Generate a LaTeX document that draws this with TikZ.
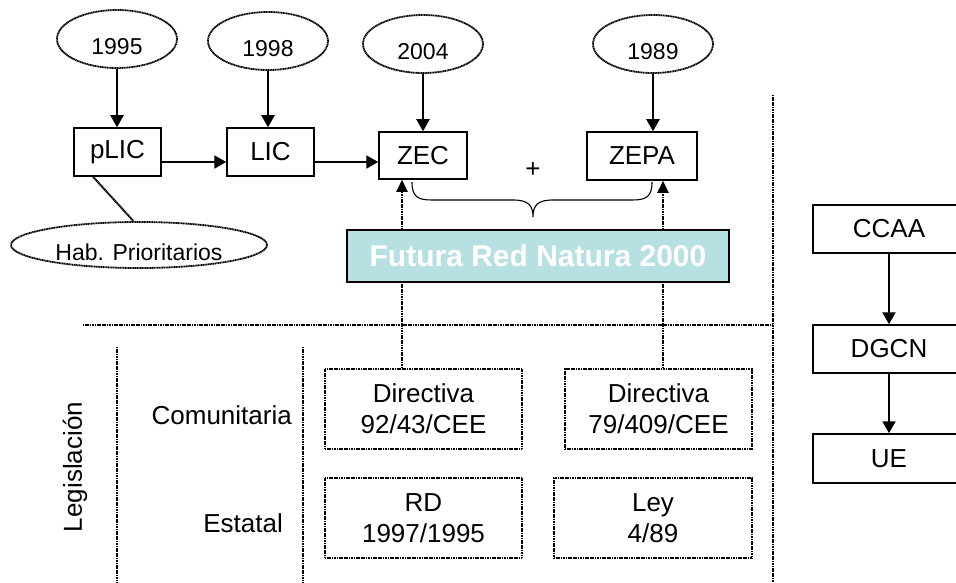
\documentclass[tikz,border=0pt]{standalone}
\usepackage{fontspec}
\setmainfont{Liberation Sans}
\usetikzlibrary{shapes.geometric,arrows.meta}
\definecolor{futcol}{RGB}{183,224,226}
\begin{document}
\begin{tikzpicture}[x=1pt,y=-1pt,
  yearell/.style={ellipse, draw, line width=1.8pt, dash pattern=on 1.2pt off 0.5pt, minimum width=120pt, minimum height=58pt, inner sep=0pt, font=\fontsize{23}{27}\selectfont, text height=31pt, text depth=0pt},
  sbox/.style={rectangle, draw, line width=1.5pt, inner sep=0pt, font=\fontsize{26}{31}\selectfont},
  dbox/.style={rectangle, draw, line width=1.8pt, dash pattern=on 1.2pt off 0.5pt, inner sep=0pt, align=center, font=\fontsize{26}{31}\selectfont},
  arr/.style={line width=2.2pt, -{Triangle[length=12pt,width=13pt]}},
  darr/.style={line width=2pt, dash pattern=on 1.2pt off 0.5pt, -{Triangle[length=12pt,width=11pt]}},
  dline/.style={line width=2pt, dash pattern=on 1.2pt off 0.5pt},
  lbl/.style={inner sep=0pt, font=\fontsize{26}{31}\selectfont}
]
\useasboundingbox (0,0) rectangle (956,583);
\clip (0,0) rectangle (956,583);

% year ellipses
\node[yearell] (y95) at (117,39) {1995};
\node[yearell] (y98) at (268,41) {1998};
\node[yearell] (y04) at (423,44) {2004};
\node[yearell] (y89) at (653,44) {1989};

% top boxes
\node[sbox, minimum width=87pt, minimum height=48pt] (plic) at (117.5,152) {pLIC};
\node[sbox, minimum width=87pt, minimum height=48pt] (lic) at (270.5,152) {LIC};
\node[sbox, minimum width=88pt, minimum height=47pt] (zec) at (423,155.5) {ZEC};
\node[sbox, minimum width=110pt, minimum height=48pt] (zepa) at (642,156) {ZEPA};
\node[lbl] (plus) at (533,170) {+};

\node[yearell, minimum width=256pt, minimum height=46pt, text height=30pt] (hab) at (139,245) {Hab. Prioritarios};

% arrows from years
\draw[arr] (y95.south) -- (y95.south |- plic.north);
\draw[arr] (y98.south) -- (y98.south |- lic.north);
\draw[arr] (y04.south) -- (y04.south |- zec.north);
\draw[arr] (y89.south) -- (y89.south |- zepa.north);
\draw[arr] ([yshift=-10pt]plic.east) -- ([yshift=-10pt]plic.east -| lic.west);
\draw[arr] ([yshift=-10pt]lic.east) -- ([yshift=-10pt]lic.east -| zec.west);
\draw[dline] ([xshift=-24.5pt]plic.south) -- (hab.103);

% brace
\draw[line width=1.1pt] (412,182) .. controls (412,197) and (418,200) .. (432,200) -- (513,200)
  .. controls (528,200) and (533,205) .. (533,217)
  .. controls (533,205) and (538,200) .. (553,200) -- (632,200)
  .. controls (646,200) and (652,197) .. (652,182);

% legislation boxes
\node[dbox, minimum width=197pt, minimum height=80pt] (dir1) at (423.5,409) {Directiva\\92/43/CEE};
\node[dbox, minimum width=187pt, minimum height=80pt] (dir2) at (658.5,409) {Directiva\\79/409/CEE};
\node[dbox, minimum width=197pt, minimum height=80pt] (rd) at (423.5,518) {RD\\1997/1995};
\node[dbox, minimum width=198pt, minimum height=80pt] (ley) at (653,518) {Ley\\4/89};

% dotted arrows up
\draw[darr] ([xshift=-21.5pt]dir1.north) -- ([xshift=-21.5pt]dir1.north |- zec.south);
\draw[darr] ([xshift=4.5pt]dir2.north) -- ([xshift=4.5pt]dir2.north |- zepa.south);

% Futura box
\node[fill=futcol, draw, line width=1.5pt, minimum width=382pt, minimum height=52pt, inner sep=0pt,
  font=\fontsize{30}{36}\selectfont\bfseries, text=white] (fut) at (538,256) {Futura Red Natura 2000};

% separators
\coordinate (hl) at (83,325);
\coordinate (hr) at (773,325);
\coordinate (vt) at (773,95);
\coordinate (vb) at (773,583);
\coordinate (l1t) at (117,347);
\coordinate (l1b) at (117,583);
\coordinate (l2t) at (303,347);
\coordinate (l2b) at (303,583);
\draw[dline] (hl) -- (hr);
\draw[dline] (vt) -- (vb);
\draw[dline] (l1t) -- (l1b);
\draw[dline] (l2t) -- (l2b);

% labels
\node[lbl, rotate=90] (leg) at (75,467) {Legislación};
\node[lbl, anchor=east] (comu) at (292,415) {Comunitaria};
\node[lbl, anchor=east] (esta) at (283,523) {Estatal};

% right column
\node[sbox, minimum width=152pt, minimum height=48pt] (ccaa) at (889,229) {CCAA};
\node[sbox, minimum width=152pt, minimum height=48pt] (dgcn) at (889,349) {DGCN};
\node[sbox, minimum width=152pt, minimum height=49pt] (ue) at (889,458.5) {UE};
\draw[arr] (ccaa.south) -- (dgcn.north);
\draw[arr] (dgcn.south) -- (ue.north);
\end{tikzpicture}
\end{document}
